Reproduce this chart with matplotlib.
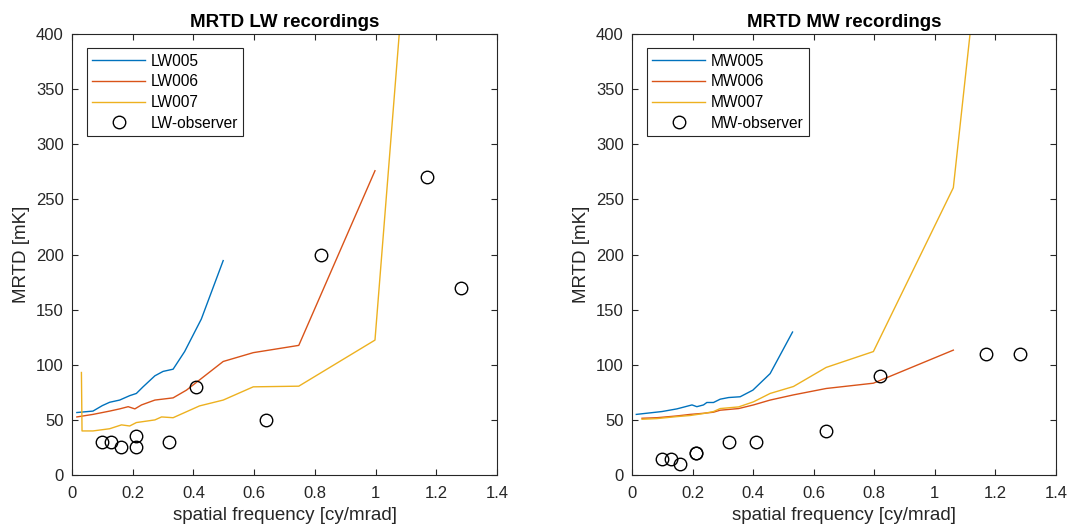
import matplotlib
matplotlib.use("Agg")
import matplotlib.pyplot as plt

plt.rcParams['font.family'] = ['Liberation Sans', 'DejaVu Sans']

# ---- data: LW ----
lw005_x = [0.016, 0.069, 0.10, 0.124, 0.157, 0.19, 0.212, 0.234, 0.273, 0.30, 0.333, 0.371, 0.426, 0.498]
lw005_y = [56.7, 58, 63, 66, 68, 72, 74, 80, 90, 94, 96, 112, 141.5, 194.5]

lw006_x = [0.016, 0.069, 0.124, 0.157, 0.185, 0.207, 0.229, 0.273, 0.333, 0.377, 0.498, 0.597, 0.747, 0.998]
lw006_y = [52.7, 55, 58, 60, 62, 60, 63.6, 68, 70, 77, 103, 111, 117.6, 276]

lw007_x = [0.031, 0.033, 0.069, 0.124, 0.163, 0.19, 0.212, 0.273, 0.295, 0.333, 0.42, 0.498, 0.597, 0.747, 0.998, 1.09]
lw007_y = [93, 40, 40, 42, 45.5, 44.5, 47.6, 50, 52.7, 52, 62.7, 68, 80, 80.6, 122.4, 442]

obs_x = [0.10, 0.13, 0.16, 0.21, 0.21, 0.32, 0.41, 0.64, 0.82, 1.17, 1.28]
lw_obs_y = [30, 30, 25, 35, 25, 30, 80, 50, 200, 270, 170]

# ---- data: MW ----
mw005_x = [0.014, 0.099, 0.148, 0.176, 0.198, 0.214, 0.236, 0.247, 0.269, 0.291, 0.319, 0.357, 0.399, 0.456, 0.53]
mw005_y = [55, 57.6, 60, 62, 63.6, 62, 63.6, 65.8, 65.8, 68.8, 70.3, 71, 77, 92, 129.7]

mw006_x = [0.033, 0.082, 0.148, 0.192, 0.236, 0.269, 0.291, 0.352, 0.401, 0.456, 0.533, 0.641, 0.797, 1.061]
mw006_y = [51.5, 52, 53.6, 55, 56, 57, 58.8, 60.3, 63.6, 68, 72.7, 78.5, 83.3, 113.3]

mw007_x = [0.033, 0.082, 0.148, 0.192, 0.236, 0.269, 0.291, 0.352, 0.401, 0.456, 0.533, 0.641, 0.797, 1.061, 1.13]
mw007_y = [50.6, 51.2, 53, 54, 55.8, 57.6, 60.3, 61.8, 66.4, 74, 80.3, 97.6, 112, 260.6, 435]

mw_obs_y = [15, 15, 10, 20, 20, 30, 30, 40, 90, 110, 110]

xticks = [0, 0.2, 0.4, 0.6, 0.8, 1, 1.2, 1.4]
xticklabels = ['0', '0.2', '0.4', '0.6', '0.8', '1', '1.2', '1.4']
yticks = [0, 50, 100, 150, 200, 250, 300, 350, 400]

C1, C2, C3 = '#0072BD', '#D95319', '#EDB120'
TXT = '#262626'

fig = plt.figure(figsize=(10.70, 5.29), dpi=100)
ax1 = fig.add_axes([0.0673, 0.102, 0.3972, 0.8337])
ax2 = fig.add_axes([0.5907, 0.102, 0.3962, 0.8337])

def setup(ax, title, series, obs_y, names):
    for (x, y), c, n in zip(series, (C1, C2, C3), names[:3]):
        ax.plot(x, y, color=c, lw=1.0, label=n)
    ax.plot(obs_x, obs_y, 'o', mfc='none', mec='black', ms=9, mew=1.0, ls='none', label=names[3])
    ax.set_xlim(0, 1.4)
    ax.set_ylim(0, 400)
    ax.set_xticks(xticks)
    ax.set_xticklabels(xticklabels)
    ax.set_yticks(yticks)
    ax.tick_params(direction='in', top=True, right=True, length=4, width=0.8,
                   labelsize=12, colors=TXT)
    ax.tick_params(axis='x', pad=8)
    ax.tick_params(axis='y', pad=6)
    for s in ax.spines.values():
        s.set_color(TXT)
        s.set_linewidth(0.8)
    ax.set_xlabel('spatial frequency [cy/mrad]', fontsize=13.5, color=TXT, labelpad=4)
    ax.set_ylabel('MRTD [mK]', fontsize=13.5, color=TXT, labelpad=4)
    ax.set_title(title, fontsize=13.5, fontweight='bold', color='black', pad=5)
    leg = ax.legend(loc='upper left', bbox_to_anchor=(0.035, 0.968), fontsize=11.2,
                    frameon=True, fancybox=False, edgecolor=TXT, framealpha=1,
                    handlelength=3.4, handletextpad=0.35, borderpad=0.35, labelspacing=0.37,
                    borderaxespad=0)
    leg.get_frame().set_linewidth(0.8)

setup(ax1, 'MRTD LW recordings', [(lw005_x, lw005_y), (lw006_x, lw006_y), (lw007_x, lw007_y)],
      lw_obs_y, ['LW005', 'LW006', 'LW007', 'LW-observer'])
setup(ax2, 'MRTD MW recordings', [(mw005_x, mw005_y), (mw006_x, mw006_y), (mw007_x, mw007_y)],
      mw_obs_y, ['MW005', 'MW006', 'MW007', 'MW-observer'])

fig.savefig('out.png', dpi=100)
